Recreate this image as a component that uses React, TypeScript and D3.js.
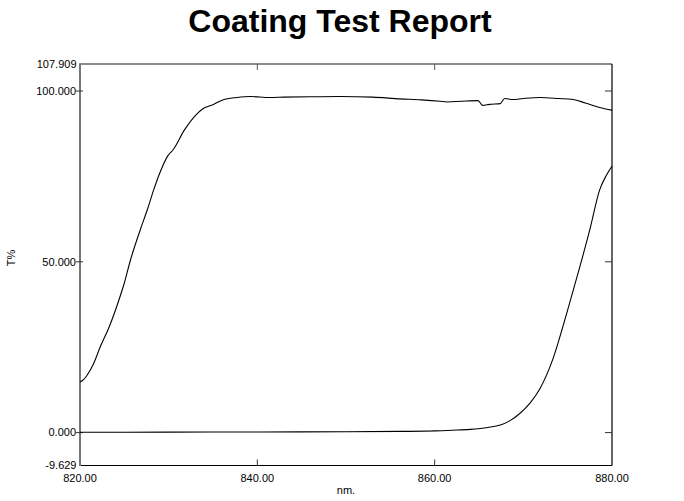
import React from "react";
import * as d3 from "d3";

const title = "Coating Test Report";
const xDomain = [820, 880];
const yDomain = [-9.629, 107.909];
const xTicks = [820, 840, 860, 880];
const yTicks = [0, 50, 100];
const yEdgeLabels = ["107.909", "-9.629"];

const wl1 = [820.0, 820.4, 820.8, 821.5, 822.3, 823.3, 824.4, 825.0, 825.7, 826.8, 827.6, 828.3, 829.0, 829.9, 830.5, 831.8, 833.0, 833.9, 835.0, 836.1, 837.7, 839.2, 841.4, 843, 846, 849.3, 853, 856.1, 858.5, 860.6, 861.4, 863, 864.9, 865.4, 866.2, 867.4, 867.9, 868.8, 870, 871.9, 874, 875.6, 877, 878.6, 880];
const t1 = [14.8, 15.5, 16.8, 20, 25.2, 31, 38.9, 43.8, 50.6, 59.4, 65.3, 71, 76, 81, 82.8, 88.7, 92.8, 94.9, 96, 97.4, 98.1, 98.4, 98.1, 98.2, 98.3, 98.4, 98.2, 97.7, 97.4, 97.0, 96.8, 97.0, 97.2, 95.8, 96.1, 96.3, 97.8, 97.5, 97.8, 98.1, 97.8, 97.5, 96.5, 95.2, 94.4];

const wl2 = [820, 830, 840, 850, 856, 860, 862, 864, 866, 867.4, 868.5, 869.6, 870.8, 871.9, 873.3, 874.9, 876.4, 877.5, 878.6, 879.4, 880];
const t2 = [0.1, 0.15, 0.2, 0.25, 0.35, 0.5, 0.7, 0.95, 1.5, 2.2, 3.5, 5.6, 8.8, 13, 21.3, 35, 48.8, 59.4, 71, 75.5, 78];

export default function App() {
  const W = 684, H = 501;
  const L = 80, R = 612, T = 64, B = 465.5;
  const x = d3.scaleLinear().domain(xDomain).range([L, R]);
  const y = d3.scaleLinear().domain(yDomain).range([B, T]);
  const font = "Arial, 'Liberation Sans', sans-serif";

  const line1 = d3.line<number>().x((d, i) => x(wl1[i])).y((d) => y(d)).curve(d3.curveMonotoneX);
  const line2 = d3.line<number>().x((d, i) => x(wl2[i])).y((d) => y(d)).curve(d3.curveMonotoneX);

  return (
    <svg width={W} height={H} style={{ position: "absolute", left: 0, top: 0, background: "#fff" }} fontFamily={font}>
      <rect x={0} y={0} width={W} height={H} fill="#fff" />
      <text x={340} y={32} textAnchor="middle" fontSize={32} fontWeight="bold" fill="#000">{title}</text>

      {/* frame */}
      <line x1={L} y1={T} x2={R} y2={T} stroke="#666" strokeWidth={1.5} />
      <line x1={R} y1={T} x2={R} y2={B} stroke="#000" strokeWidth={1.2} />
      <line x1={L} y1={B} x2={R} y2={B} stroke="#000" strokeWidth={1.2} />
      <line x1={L} y1={T - 0.75} x2={L} y2={B + 0.6} stroke="#777" strokeWidth={2} />

      {/* x ticks */}
      {xTicks.map((v) => (
        <g key={"x" + v}>
          {v > xDomain[0] && v < xDomain[1] && (
            <>
              <line x1={x(v)} y1={B} x2={x(v)} y2={B - 6} stroke="#333" strokeWidth={1} />
              <line x1={x(v)} y1={T} x2={x(v)} y2={T + 6} stroke="#555" strokeWidth={1} />
            </>
          )}
          <text x={x(v)} y={482} textAnchor="middle" fontSize={11} fill="#000">{v.toFixed(2)}</text>
        </g>
      ))}

      {/* y ticks */}
      {yTicks.map((v) => (
        <g key={"y" + v}>
          <line x1={L - 4} y1={y(v)} x2={L + 3} y2={y(v)} stroke="#333" strokeWidth={1} />
          <line x1={R - 7} y1={y(v)} x2={R} y2={y(v)} stroke="#333" strokeWidth={1} />
          <text x={L - 4} y={y(v)} dy="0.35em" textAnchor="end" fontSize={11} fill="#000">{v.toFixed(3)}</text>
        </g>
      ))}
      <text x={L - 3.5} y={T} dy="0.35em" textAnchor="end" fontSize={11} fill="#000">{yEdgeLabels[0]}</text>
      <text x={L - 3.5} y={B} dy="0.35em" textAnchor="end" fontSize={11} fill="#000">{yEdgeLabels[1]}</text>

      <text x={346} y={494} textAnchor="middle" fontSize={11} fill="#000">nm.</text>
      <text transform={`translate(15,258) rotate(-90)`} textAnchor="middle" fontSize={11} fill="#000">T%</text>

      <path d={line1(t1) || ""} fill="none" stroke="#000" strokeWidth={1.1} />
      <path d={line2(t2) || ""} fill="none" stroke="#000" strokeWidth={1.1} />
    </svg>
  );
}
